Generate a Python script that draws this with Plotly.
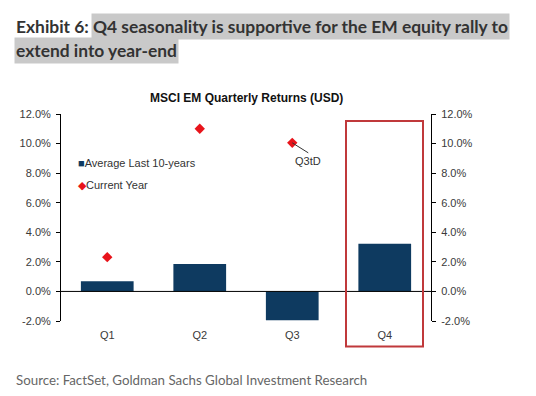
import plotly.graph_objects as go

quarters = ["Q1", "Q2", "Q3", "Q4"]
avg_10y = [0.68, 1.85, -1.95, 3.22]
current_q = ["Q1", "Q2", "Q3"]
current_year = [2.32, 11.0, 10.05]
y_ticks = [-2, 0, 2, 4, 6, 8, 10, 12]
y_tick_labels = [f"{v:.1f}%" for v in y_ticks]

NAVY = "#0e3a60"
RED = "#e8141b"
TXT = "#333333"
AX_FONT = dict(family="Arial, Liberation Sans", size=11, color="#3a3a3a")

fig = go.Figure()
fig.add_trace(go.Bar(x=quarters, y=avg_10y, name="Average Last 10-years",
                     marker=dict(color=NAVY, line=dict(width=0)), width=0.57))
fig.add_trace(go.Scatter(x=current_q, y=current_year, name="Current Year", mode="markers",
                         marker=dict(symbol="diamond", color=RED, size=8)))
# invisible trace to drive the right axis
fig.add_trace(go.Scatter(x=quarters, y=avg_10y, yaxis="y2", mode="markers",
                         marker=dict(opacity=0), showlegend=False, hoverinfo="skip"))

axis_common = dict(range=[-2, 12], tickvals=y_ticks, ticktext=y_tick_labels,
                   showgrid=False, zeroline=False, showline=True, linecolor="black",
                   linewidth=1, ticks="outside", ticklen=4, tickcolor="black",
                   ticklabelstandoff=3, tickfont=AX_FONT)

fig.update_layout(
    width=536, height=396,
    margin=dict(l=61, r=105, t=114, b=75),
    paper_bgcolor="white", plot_bgcolor="white",
    xaxis=dict(range=[-0.5, 3.5], showline=False, showgrid=False, zeroline=False,
               ticks="", ticklabelstandoff=6, tickfont=AX_FONT),
    yaxis=dict(**axis_common, side="left"),
    yaxis2=dict(**axis_common, side="right", overlaying="y"),
    showlegend=False,
    bargap=0.43,
)

def px_x(px):
    return (px - 61) / 370
def px_y(py):
    return (321 - py) / 207

# zero line
fig.add_shape(type="line", xref="paper", yref="y", x0=0, x1=1, y0=0, y1=0,
              line=dict(color="black", width=1))
# Q4 highlight box
fig.add_shape(type="rect", xref="paper", yref="paper", x0=px_x(346), x1=px_x(423),
              y0=px_y(346.5), y1=px_y(121),
              line=dict(color="#c0393b", width=2), fillcolor="rgba(0,0,0,0)")

# legend (compact, as in the original)
fig.add_annotation(xref="paper", yref="paper", x=px_x(76), y=px_y(163),
                   text=f"<span style='color:{NAVY}'>■</span>{fig.data[0].name}",
                   showarrow=False, xanchor="left", yanchor="middle",
                   font=dict(family="Arial, Liberation Sans", size=11, color=TXT))
fig.add_annotation(xref="paper", yref="paper", x=px_x(76), y=px_y(185),
                   text=f"<span style='color:{RED}'>◆</span>{fig.data[1].name}",
                   showarrow=False, xanchor="left", yanchor="middle",
                   font=dict(family="Arial, Liberation Sans", size=11, color=TXT))

# Q3tD label
fig.add_annotation(x="Q3", y=current_year[2], text="Q3tD", showarrow=True, arrowhead=0,
                   arrowwidth=1, arrowcolor="#333333", ax=16, ay=10, xanchor="center", yanchor="top",
                   font=dict(family="Arial, Liberation Sans", size=11, color=TXT))

# chart title
fig.add_annotation(xref="paper", yref="paper", x=0.5, y=px_y(98), text="<b>MSCI EM Quarterly Returns (USD)</b>",
                   showarrow=False, xanchor="center", yanchor="middle",
                   font=dict(family="Arial, Liberation Sans", size=12, color="#111111"))

# Exhibit heading
HFONT = dict(family="Lato, Open Sans", size=17.4, color=TXT)
fig.add_annotation(xref="paper", yref="paper", x=px_x(14), y=px_y(26.5), text="<b>Exhibit 6: </b>",
                   showarrow=False, xanchor="left", yanchor="middle", font=HFONT)
fig.add_annotation(xref="paper", yref="paper", x=px_x(91), y=px_y(26.5),
                   text="<b>Q4 seasonality is supportive for the EM equity rally to</b>",
                   showarrow=False, xanchor="left", yanchor="middle", font=HFONT,
                   bgcolor="#c9c9c9", borderpad=1, height=23, valign="middle")
fig.add_annotation(xref="paper", yref="paper", x=px_x(14), y=px_y(51),
                   text="<b>extend into year-end</b>",
                   showarrow=False, xanchor="left", yanchor="middle", font=HFONT,
                   bgcolor="#c9c9c9", borderpad=1, height=23, valign="middle")

# source
fig.add_annotation(xref="paper", yref="paper", x=px_x(14), y=px_y(380),
                   text="Source: FactSet, Goldman Sachs Global Investment Research",
                   showarrow=False, xanchor="left", yanchor="middle",
                   font=dict(family="Lato, Open Sans", size=13.3, color="#666666"))

fig.write_html("out.html", config={"displayModeBar": False},
               post_script="document.body.style.margin='0';")
